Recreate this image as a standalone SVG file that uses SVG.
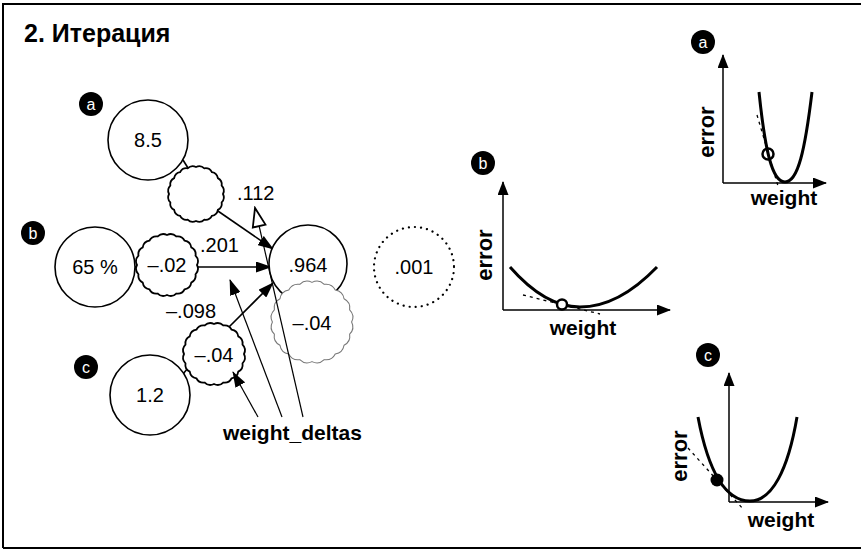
<svg xmlns="http://www.w3.org/2000/svg" width="861" height="550" viewBox="0 0 861 550">
<style>
.num{font-family:"Liberation Sans",Arial,sans-serif;font-size:20px;fill:#000;text-anchor:middle}
.lbl{font-family:"Liberation Sans",Arial,sans-serif;font-size:20px;fill:#000}
.bold{font-family:"Liberation Sans",Arial,sans-serif;font-size:21px;font-weight:bold;fill:#000}
.big{font-size:22px}
.badge{fill:#000}
.badget{font-family:"Liberation Sans",Arial,sans-serif;font-size:16px;fill:#fff;text-anchor:middle}
.node{fill:#fff;stroke:#000;stroke-width:1.6}
.wavy{fill:#fff;stroke:#000;stroke-width:1.8}
.conn{stroke:#000;stroke-width:1.6;fill:none}
.thin{stroke:#000;stroke-width:1.2;fill:none}
.axis{stroke:#000;stroke-width:1.5;fill:none}
.curve{stroke:#000;stroke-width:3;fill:none}
.tan{stroke:#000;stroke-width:1.3;fill:none;stroke-dasharray:3 4}
</style>
<defs>
<path id="wv" d="M30,0 A8,8 0 0 1 28.53,9.27 A8,8 0 0 1 24.27,17.63 A8,8 0 0 1 17.63,24.27 A8,8 0 0 1 9.27,28.53 A8,8 0 0 1 0,30 A8,8 0 0 1 -9.27,28.53 A8,8 0 0 1 -17.63,24.27 A8,8 0 0 1 -24.27,17.63 A8,8 0 0 1 -28.53,9.27 A8,8 0 0 1 -30,0 A8,8 0 0 1 -28.53,-9.27 A8,8 0 0 1 -24.27,-17.63 A8,8 0 0 1 -17.63,-24.27 A8,8 0 0 1 -9.27,-28.53 A8,8 0 0 1 0,-30 A8,8 0 0 1 9.27,-28.53 A8,8 0 0 1 17.63,-24.27 A8,8 0 0 1 24.27,-17.63 A8,8 0 0 1 28.53,-9.27 A8,8 0 0 1 30,0 Z"/>
<marker id="ah" markerWidth="16" markerHeight="11" refX="15" refY="5.5" orient="auto" markerUnits="userSpaceOnUse"><path d="M0,0 L16,5.5 L0,11 z" fill="#000"/></marker>
<marker id="ahh" markerWidth="22" markerHeight="16" refX="20" refY="8" orient="auto" markerUnits="userSpaceOnUse"><path d="M1.5,1.5 L20,8 L1.5,14.5 z" fill="#fff" stroke="#000" stroke-width="1.8"/></marker>
<marker id="ax" markerWidth="14" markerHeight="11" refX="13" refY="5.5" orient="auto" markerUnits="userSpaceOnUse"><path d="M0,0 L14,5.5 L0,11 z" fill="#000"/></marker>
</defs>
<rect width="861" height="550" fill="#fff"/>
<path d="M3,548 L3,4 L861,4 M3,548 L861,548" stroke="#000" stroke-width="2" fill="none"/>
<text x="24" y="42" class="bold" style="font-size:25px">2. Итерация</text>

<g id="connectors">
<line x1="183" y1="160" x2="188" y2="168" class="conn"/>
<line x1="135" y1="267" x2="138" y2="267" class="conn"/>
<line x1="183" y1="374" x2="188" y2="368" class="conn"/>
<line x1="215" y1="209" x2="273" y2="249" class="conn" marker-end="url(#ah)"/>
<line x1="197" y1="267" x2="271" y2="267" class="conn" marker-end="url(#ah)"/>
<line x1="227" y1="329" x2="273" y2="283" class="conn" marker-end="url(#ah)"/>
</g>

<g id="node-a-badge"><circle cx="91" cy="104" r="12" class="badge"/><text x="91" y="110" class="badget">a</text></g>
<g id="node-b-badge"><circle cx="33" cy="233" r="12" class="badge"/><text x="33" y="239" class="badget">b</text></g>
<g id="node-c-badge"><circle cx="86" cy="367" r="12" class="badge"/><text x="86" y="373" class="badget">c</text></g>

<g id="node-a"><circle cx="148" cy="140" r="40" class="node"/><text x="148" y="147" class="num">8.5</text></g>
<g id="node-b"><circle cx="95" cy="267" r="40" class="node"/><text x="95" y="274" class="num">65 %</text></g>
<g id="node-c"><circle cx="150" cy="395" r="40" class="node"/><text x="150" y="402" class="num">1.2</text></g>

<g id="weight-a"><use href="#wv" transform="translate(196,194) scale(0.9)" class="wavy" style="stroke-width:2"/></g>
<g id="weight-b"><use href="#wv" transform="translate(167,265)" class="wavy"/><text x="167" y="272" class="num">–.02</text></g>
<g id="weight-c"><use href="#wv" transform="translate(214,354)" class="wavy"/><text x="214" y="362" class="num">–.04</text></g>

<g id="node-out"><circle cx="308" cy="264" r="39" class="node"/><text x="308" y="272" class="num">.964</text></g>
<g id="node-delta"><use href="#wv" transform="translate(312,322) scale(1.32)" style="fill:#fff;stroke:#777;stroke-width:0.8"/><text x="312" y="330" class="num">–.04</text></g>
<g id="node-err"><circle cx="414" cy="267" r="40" fill="none" stroke="#000" stroke-width="2.2" stroke-dasharray="0.1 6" stroke-linecap="round"/><text x="414" y="274" class="num">.001</text></g>

<g id="labels">
<text x="237" y="200" class="lbl">.112</text>
<text x="200" y="252" class="lbl">.201</text>
<text x="166" y="318" class="lbl">–.098</text>
</g>

<g id="weight-deltas">
<line x1="258" y1="417" x2="233" y2="372" class="thin" marker-end="url(#ah)"/>
<line x1="282" y1="417" x2="230" y2="280" class="thin" marker-end="url(#ah)"/>
<line x1="303" y1="417" x2="255" y2="208" class="thin" marker-end="url(#ahh)"/>
<text x="223" y="440" class="bold">weight_deltas</text>
</g>

<g id="graph-b">
<circle cx="483" cy="163" r="12" class="badge"/><text x="483" y="169" class="badget">b</text>
<line x1="503" y1="310" x2="503" y2="182" class="axis" marker-end="url(#ax)"/>
<line x1="503" y1="310" x2="670" y2="310" class="axis" marker-end="url(#ax)"/>
<path d="M510,267 Q545,307 580,307 Q618.5,307 657,267" class="curve"/>
<line x1="523" y1="295" x2="600" y2="314" class="tan"/>
<circle cx="562" cy="304.5" r="5" fill="#fff" stroke="#000" stroke-width="2.5"/>
<text transform="translate(492,255) rotate(-90)" class="bold big" text-anchor="middle">error</text>
<text x="583" y="335" class="bold" text-anchor="middle">weight</text>
</g>

<g id="graph-a">
<circle cx="703" cy="42" r="12" class="badge"/><text x="703" y="48" class="badget">a</text>
<line x1="723" y1="183" x2="723" y2="55" class="axis" marker-end="url(#ax)"/>
<line x1="723" y1="183" x2="826" y2="183" class="axis" marker-end="url(#ax)"/>
<path d="M759,92 C765,150 772,182 785,182 C798,182 805,150 812,92" class="curve"/>
<line x1="757" y1="115" x2="778" y2="186" class="tan"/>
<circle cx="768" cy="154" r="5.5" fill="none" stroke="#000" stroke-width="2.5"/>
<text transform="translate(714,132) rotate(-90)" class="bold big" text-anchor="middle">error</text>
<text x="784" y="205" class="bold" text-anchor="middle">weight</text>
</g>

<g id="graph-c">
<circle cx="708" cy="355" r="12" class="badge"/><text x="708" y="361" class="badget">c</text>
<line x1="729" y1="502" x2="729" y2="373" class="axis" marker-end="url(#ax)"/>
<line x1="729" y1="502" x2="828" y2="502" class="axis" marker-end="url(#ax)"/>
<path d="M698,417 C708,470 725,501 750,501 C772,501 788,470 797,417" class="curve"/>
<line x1="688" y1="448" x2="744" y2="510" class="tan"/>
<circle cx="717" cy="480" r="6.5" fill="#000"/>
<text transform="translate(687,456) rotate(-90)" class="bold big" text-anchor="middle">error</text>
<text x="781" y="527" class="bold" text-anchor="middle">weight</text>
</g>
</svg>
